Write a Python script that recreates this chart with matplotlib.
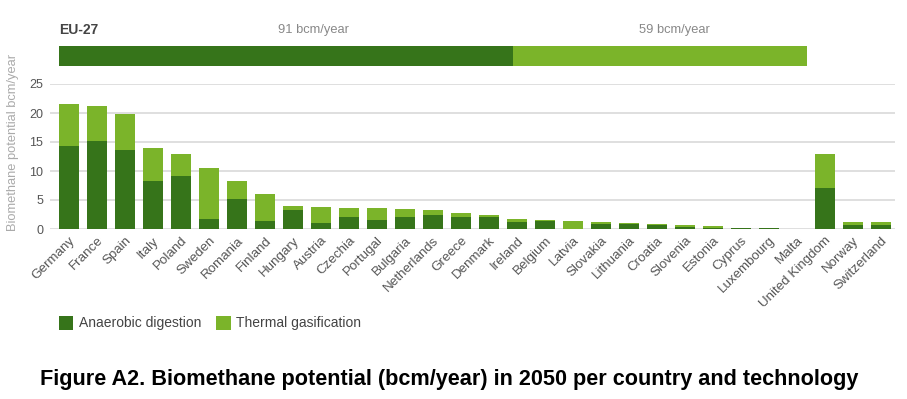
import matplotlib
matplotlib.use("Agg")
import matplotlib.pyplot as plt
from matplotlib.patches import Patch

plt.rcParams['font.family'] = ['Liberation Sans', 'DejaVu Sans']

countries = ["Germany", "France", "Spain", "Italy", "Poland", "Sweden", "Romania",
             "Finland", "Hungary", "Austria", "Czechia", "Portugal", "Bulgaria",
             "Netherlands", "Greece", "Denmark", "Ireland", "Belgium", "Latvia",
             "Slovakia", "Lithuania", "Croatia", "Slovenia", "Estonia", "Cyprus",
             "Luxembourg", "Malta", "United Kingdom", "Norway", "Switzerland"]
anaerobic = [14.3, 15.2, 13.7, 8.3, 9.2, 1.8, 5.2, 1.3, 3.2, 1.0, 2.0, 1.55, 2.1,
             2.5, 2.0, 2.1, 1.15, 1.4, 0.05, 0.85, 0.8, 0.7, 0.4, 0.2, 0.1,
             0.1, 0.02, 7.0, 0.7, 0.75]
thermal = [7.2, 6.0, 6.2, 5.7, 3.8, 8.7, 3.0, 4.8, 0.7, 2.8, 1.7, 2.05, 1.3,
           0.7, 0.8, 0.4, 0.5, 0.2, 1.35, 0.3, 0.25, 0.1, 0.23, 0.25, 0.12,
           0.12, 0.0, 6.0, 0.45, 0.4]
eu_totals = [91, 59]
eu_labels = ["91 bcm/year", "59 bcm/year"]

dark = "#36741a"
light = "#7bb42a"
W, H = 907, 399

fig = plt.figure(figsize=(9.07, 3.99), dpi=100)

# main chart
ax = fig.add_axes([50 / W, (H - 229) / H, 845 / W, 145 / H])
x = list(range(len(countries)))
ax.bar(x, anaerobic, width=0.71, color=dark, zorder=3)
ax.bar(x, thermal, width=0.71, bottom=anaerobic, color=light, zorder=3)
ax.set_xlim(-0.68, 29.5)
ax.set_ylim(0, 25)
ax.set_yticks([0, 5, 10, 15, 20, 25])
ax.grid(axis='y', color='#dcdcdc', linewidth=1.3, zorder=0)
for s in ax.spines.values():
    s.set_visible(False)
ax.tick_params(axis='both', length=0, colors='#555555', labelsize=9)
ax.tick_params(axis='y', pad=5)
ax.set_xticks(x)
ax.set_xticklabels(countries, rotation=45, ha='right', rotation_mode='anchor', fontsize=9.6)
ax.tick_params(axis='x', pad=4)
ax.set_ylabel("Biomethane potential bcm/year", color='#aaaaaa', fontsize=9.3)
ax.yaxis.set_label_coords(-31 / 845, 0.6)

# EU-27 banner
bx = fig.add_axes([59 / W, (H - 65.5) / H, (807 - 59) / W, 19.5 / H])
left = 0
for val, col in zip(eu_totals, [dark, light]):
    bx.barh(0, val, left=left, height=1, color=col)
    left += val
bx.set_xlim(0, sum(eu_totals))
bx.set_ylim(-0.5, 0.5)
bx.axis('off')

fig.text(59 / W, 1 - 30.5 / H, "EU-27", fontsize=10, fontweight='bold', color='#444444',
         va='center', ha='left')
fig.text(313 / W, 1 - 30.5 / H, eu_labels[0], fontsize=9.3, color='#888888', va='center', ha='center')
fig.text(674 / W, 1 - 30.5 / H, eu_labels[1], fontsize=9.3, color='#888888', va='center', ha='center')

# legend
handles = [Patch(facecolor=dark, label="Anaerobic digestion"),
           Patch(facecolor=light, label="Thermal gasification")]
fig.legend(handles=handles, loc='center left', bbox_to_anchor=(46 / W, 1 - 323 / H),
           ncol=2, frameon=False, fontsize=10, handlelength=1.05, handleheight=1.2,
           handletextpad=0.4, columnspacing=1.1, labelcolor='#444444')

fig.text(449 / W, 1 - 380 / H,
         "Figure A2. Biomethane potential (bcm/year) in 2050 per country and technology",
         fontsize=15.6, fontweight='bold', ha='center', va='center', color='black')

fig.savefig("out.png", dpi=100)
